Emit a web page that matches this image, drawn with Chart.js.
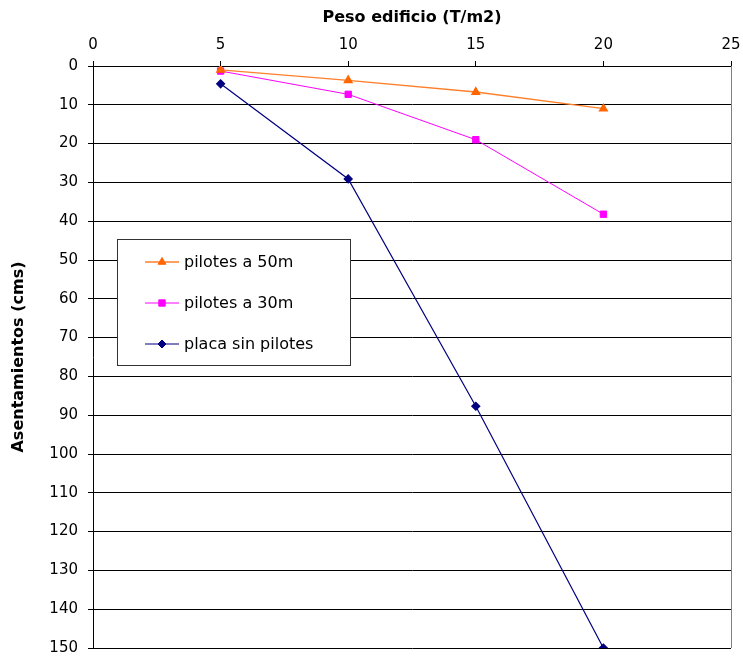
<!DOCTYPE html>
<html>
<head>
<meta charset="utf-8">
<title>Asentamientos vs peso edificio</title>
<script src="https://cdn.jsdelivr.net/npm/chart.js@4.4.1/dist/chart.umd.min.js"></script>
<style>
    body { margin: 0; background: #fff; }
    canvas { display: block; }
</style>
</head>
<body>
<canvas id="AsentamientosCanvas" width="743" height="658"></canvas>
<script>
//---------------------- DATA

const pesoEdificio = [5, 10, 15, 20];
const pilotes50m = [1.0, 3.7, 6.7, 11.0];
const pilotes30m = [1.3, 7.3, 19.0, 38.2];
const placaSinPilotes = [4.6, 29.1, 87.7, 150];

const seriesLabels = ["pilotes a 50m", "pilotes a 30m", "placa sin pilotes"];

const FONT = "'DejaVu Sans', 'Liberation Sans', sans-serif";

//---------------------- HELPERS

function toPoints(values) {
    return pesoEdificio.map((x, i) => ({ x: x, y: values[i] }));
}

// white legend box floating inside the plot
const boxLegend = {
    id: 'boxLegend',
    afterDraw(chart) {
        const ctx = chart.ctx;
        const left = 117, top = 239, width = 233, height = 126;
        ctx.save();
        ctx.fillStyle = '#fff';
        ctx.fillRect(left, top, width, height);
        ctx.strokeStyle = '#333';
        ctx.lineWidth = 1;
        ctx.strokeRect(left + 0.5, top + 0.5, width, height);

        chart.data.datasets.forEach((ds, i) => {
            const y = 262 + i * 41;
            ctx.strokeStyle = ds.borderColor;
            ctx.lineWidth = ds.borderWidth;
            ctx.beginPath();
            ctx.moveTo(145, y);
            ctx.lineTo(179, y);
            ctx.stroke();
            ctx.fillStyle = ds.pointBackgroundColor;
            ctx.strokeStyle = ds.pointBorderColor;
            ctx.lineWidth = 1;
            Chart.helpers.drawPoint(ctx, {
                pointStyle: ds.pointStyle,
                radius: ds.pointRadius,
                rotation: 0,
                borderWidth: 1
            }, 162, y);
            ctx.fillStyle = '#000';
            ctx.font = `16px ${FONT}`;
            ctx.textBaseline = 'middle';
            ctx.textAlign = 'left';
            ctx.fillText(ds.label, 184, y + 1);
        });
        ctx.restore();
    }
};

// grey right edge of the plot area
const plotFrame = {
    id: 'plotFrame',
    beforeDatasetsDraw(chart) {
        const { ctx, chartArea } = chart;
        ctx.save();
        ctx.strokeStyle = '#808080';
        ctx.lineWidth = 1;
        ctx.beginPath();
        ctx.moveTo(Math.round(chartArea.right) + 0.5, chartArea.top);
        ctx.lineTo(Math.round(chartArea.right) + 0.5, chartArea.bottom);
        ctx.stroke();
        ctx.restore();
    }
};

//---------------------- CHART

const data = {
    datasets: [
        {
            label: seriesLabels[0],
            data: toPoints(pilotes50m),
            borderColor: '#FF7F2A',
            borderWidth: 1.3,
            pointStyle: 'triangle',
            pointRadius: 4.5,
            pointBackgroundColor: '#FF6600',
            pointBorderColor: '#FF6600'
        },
        {
            label: seriesLabels[1],
            data: toPoints(pilotes30m),
            borderColor: '#FF00FF',
            borderWidth: 1,
            pointStyle: 'rect',
            pointRadius: 4.5,
            pointBackgroundColor: '#FF00FF',
            pointBorderColor: '#FF00FF'
        },
        {
            label: seriesLabels[2],
            data: toPoints(placaSinPilotes),
            borderColor: '#000080',
            borderWidth: 1.2,
            pointStyle: 'rectRot',
            pointRadius: 4,
            pointBackgroundColor: '#000080',
            pointBorderColor: '#000080'
        }
    ]
};

const myChart = new Chart(document.getElementById("AsentamientosCanvas").getContext("2d"), {
    type: 'scatter',
    data: data,
    options: {
        responsive: false,
        animation: false,
        showLine: true,
        layout: { padding: { left: 0, right: 12, top: 0, bottom: 10 } },
        plugins: {
            legend: { display: false },
            tooltip: { enabled: false }
        },
        elements: { line: { tension: 0, fill: false } },
        scales: {
            x: {
                type: 'linear',
                position: 'top',
                min: 0,
                max: 25,
                ticks: { stepSize: 5, padding: 7, color: '#000', font: { family: FONT, size: 15 } },
                grid: { drawOnChartArea: false, drawTicks: true, tickLength: 5, color: '#000' },
                border: { display: true, color: '#000' },
                title: {
                    display: true,
                    text: 'Peso edificio (T/m2)',
                    color: '#000',
                    font: { family: FONT, size: 16, weight: 'bold' },
                    padding: { top: 8, bottom: 0 }
                },
                afterFit: scale => {
                    scale.height = 66;
                    scale.paddingLeft = 0;
                    scale.paddingRight = 0;
                }
            },
            y: {
                type: 'linear',
                position: 'left',
                reverse: true,
                min: 0,
                max: 150,
                ticks: { stepSize: 10, padding: 10, color: '#000', font: { family: FONT, size: 15 } },
                grid: { drawTicks: true, tickLength: 5, color: '#000', lineWidth: 1 },
                border: { display: true, color: '#000' },
                title: {
                    display: true,
                    text: 'Asentamientos (cms)',
                    color: '#000',
                    font: { family: FONT, size: 16, weight: 'bold' },
                    padding: { top: 9, bottom: 0 }
                },
                afterFit: scale => {
                    scale.width = 93;
                    scale.paddingTop = 0;
                    scale.paddingBottom = 0;
                }
            }
        }
    },
    plugins: [plotFrame, boxLegend]
});
</script>
</body>
</html>
